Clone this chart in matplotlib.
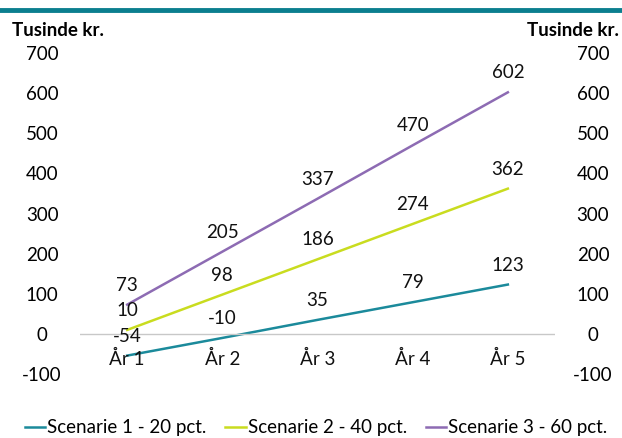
import matplotlib.pyplot as plt
import numpy as np

plt.rcParams['font.family'] = ['Lato', 'DejaVu Sans']
plt.rcParams['axes.unicode_minus'] = False

# Data
years = ['År 1', 'År 2', 'År 3', 'År 4', 'År 5']
scen1 = [-54, -10, 35, 79, 123]
scen2 = [10, 98, 186, 274, 362]
scen3 = [73, 205, 337, 470, 602]
names = ['Scenarie 1 - 20 pct.', 'Scenarie 2 - 40 pct.', 'Scenarie 3 - 60 pct.']
colors = ['#1b8a9b', '#c9dc1f', '#8d6bb3']
yticks = [-100, 0, 100, 200, 300, 400, 500, 600, 700]

fig = plt.figure(figsize=(6.22, 4.38), dpi=100)
ax = fig.add_axes([0.128, 0.146, 0.765, 0.733])

x = np.arange(len(years))
for vals, name, c in zip([scen1, scen2, scen3], names, colors):
    ax.plot(x, vals, color=c, lw=1.8, label=name)
    for xi, v in zip(x, vals):
        ax.annotate(str(v), (xi, v), xytext=(0, 14), textcoords='offset points',
                    ha='center', va='center', fontsize=13.5, color='#111111')

ax.set_xlim(-0.5, len(years) - 0.5)
ax.set_ylim(-100, 700)
ax.axhline(0, color='#c8c8c8', lw=1)

for s in ax.spines.values():
    s.set_visible(False)
ax.set_xticks([])
ax.set_yticks(yticks)
ax.tick_params(axis='y', length=0, labelsize=13.5, labelright=True)
for t in ax.yaxis.get_major_ticks():
    t.label1.set_horizontalalignment('center')
    t.label2.set_horizontalalignment('center')
    t.set_pad(27)

# category labels just below the zero line
for xi, yr in zip(x, years):
    ax.text(xi, -63, yr, ha='center', va='center', fontsize=13.5, color='#111111')

# headers
fig.text(12 / 622, 1 - 30 / 438, 'Tusinde kr.', fontsize=13.5, fontweight='bold', va='center')
fig.text(619 / 622, 1 - 30 / 438, 'Tusinde kr.', fontsize=13.5, fontweight='bold', va='center', ha='right')

# top band
fig.add_artist(plt.Line2D([0, 1], [1 - 10 / 438, 1 - 10 / 438], color='#0b7f8f', lw=3.5,
                          transform=fig.transFigure))

fig.legend(loc='center', bbox_to_anchor=(316 / 622, 1 - 428 / 438), ncol=3, frameon=False,
           fontsize=13.5, handlelength=1.1, handletextpad=0.1, columnspacing=1.0)

fig.savefig('out.png', dpi=100)
